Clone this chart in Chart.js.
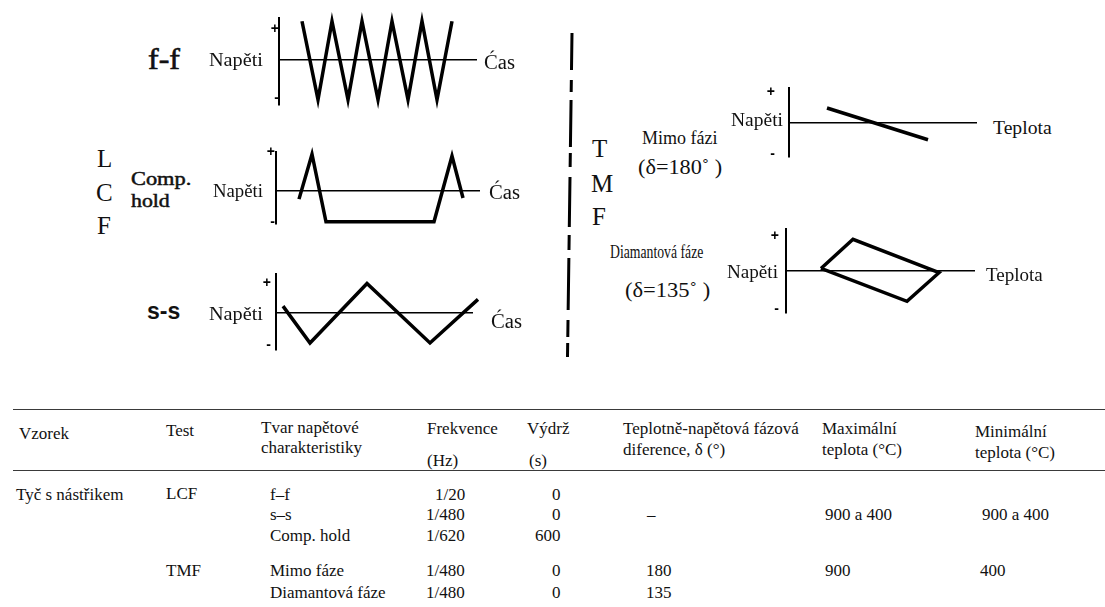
<!DOCTYPE html>
<html>
<head>
<meta charset="utf-8">
<script src="https://cdn.jsdelivr.net/npm/chart.js@4.4.1/dist/chart.umd.min.js"></script>
<style>
  html, body { margin:0; padding:0; background:#fff; }
  body { width:1105px; height:607px; position:relative; overflow:hidden; }
  canvas { position:absolute; }
  .t { position:absolute; white-space:nowrap; line-height:1; color:#111; transform-origin:0 50%; }
  .rule { position:absolute; left:13px; width:1092px; height:0; border-top:1.6px solid #3a3a3a; }
</style>
</head>
<body>
<svg width="1105" height="607" style="position:absolute;left:0;top:0">
  <line x1="572" y1="33" x2="567.5" y2="357" stroke="#000" stroke-width="3"
        stroke-dasharray="37 10 12 8 47 6 14 10 50 8 15 8 52 10 17 6 14"/>
</svg>
<div class="rule" style="top:409px"></div>
<div class="rule" style="top:470px"></div>
<script>
// ---------------- DATA ----------------
// f-f (fast-fast) triangle: time (arbitrary units), stress (normalised)
const ffTime   = [23, 39, 53, 69, 83, 99, 113, 129, 143, 158, 173];
const ffStress = [1, -1.02, 1, -1.02, 1, -1.02, 1, -1.02, 1, -1.02, 1];
// Compression hold
const chTime   = [23, 36, 50, 158, 176, 187];
const chStress = [-0.23, 1.0, -0.85, -0.85, 0.95, -0.2];
// s-s (slow-slow) triangle
const ssTime   = [7, 34, 91, 154, 202];
const ssStress = [0.23, -1.03, 1.0, -1.03, 0.46];
// TMF out-of-phase (stress vs temperature)
const oopTemp   = [38, 139];
const oopStress = [0.88, -1.0];
// TMF diamond phase
const dmTemp   = [35, 67, 153, 121, 35];
const dmStress = [0.09, 1.11, -0.06, -1.06, 0.09];

// Table
const tableHeaders = [
  ['Vzorek'], ['Test'], ['Tvar napětové', 'charakteristiky'], ['Frekvence', '(Hz)'],
  ['Výdrž', '(s)'], ['Teplotně-napětová fázová', 'diference, δ (°)'],
  ['Maximální', 'teplota (°C)'], ['Minimální', ' teplota (°C)']
];
const sampleName = 'Tyč s nástřikem';
const testTypes  = ['LCF', 'TMF'];
const waveShapes = ['f–f', 's–s', 'Comp. hold', 'Mimo fáze', 'Diamantová fáze'];
const frequencies = ['1/20', '1/480', '1/620', '1/480', '1/480'];
const holdTimes   = ['0', '0', '600', '0', '0'];
const phaseDiff   = ['–', '180', '135'];
const maxTemps    = ['900 a 400', '900'];
const minTemps    = ['900 a 400', '400'];

// ---------------- HELPERS ----------------
const SERIF = "'Liberation Serif','Times New Roman',serif";
function label(text, x, y, size, o) {
  o = o || {};
  const d = document.createElement('div');
  d.className = 't';
  d.textContent = text;
  d.style.fontFamily = o.family || SERIF;
  d.style.fontSize = size + 'px';
  d.style.fontWeight = o.weight || 'normal';
  if (o.stroke) d.style.webkitTextStroke = o.stroke + 'px #111';
  d.style.top = y + 'px';
  document.body.appendChild(d);
  const w = d.offsetWidth;
  let sx = 1;
  if (o.w) sx = o.w / w;
  const left = o.align === 'right' ? x - w * sx : x;
  d.style.left = left + 'px';
  d.style.transform = 'translateY(-50%) scaleX(' + sx + ')';
}

function wave(xs, ys, L) {
  const AW = 26, pT = 6, pB = 6, pR = 12;
  const c = document.createElement('canvas');
  const W = AW + (L.end - L.axisX) + pR;
  const H = (L.bottom - L.top) + pT + pB;
  c.width = W; c.height = H;
  c.style.left = (L.axisX - AW) + 'px';
  c.style.top = (L.top - pT) + 'px';
  c.style.width = W + 'px'; c.style.height = H + 'px';
  document.body.appendChild(c);
  new Chart(c, {
    type: 'scatter',
    data: { datasets: [{
      data: xs.map((x, i) => ({ x: x, y: ys[i] })),
      showLine: true, borderColor: '#000', borderWidth: 3.5,
      pointRadius: 0, pointHoverRadius: 0, fill: false, clip: false,
      borderJoinStyle: 'miter', tension: 0
    }]},
    options: {
      responsive: false, animation: false, devicePixelRatio: 1,
      layout: { padding: { left: 0, right: pR, top: pT, bottom: pB } },
      plugins: { legend: { display: false }, tooltip: { enabled: false } },
      scales: {
        x: { type: 'linear', min: 0, max: L.xMax, display: false },
        y: {
          type: 'linear', min: L.yMin, max: L.yMax,
          afterFit: s => { s.width = AW; },
          afterBuildTicks: s => { s.ticks = [{ value: L.minus }, { value: 0 }, { value: L.plus }]; },
          ticks: {
            autoSkip: false, padding: L.pad, color: '#000',
            font: { family: "'Liberation Sans',sans-serif", size: 14, weight: 'bold' },
            callback: v => v > 0 ? '+' : (v < 0 ? '-' : '')
          },
          grid: {
            drawTicks: false, lineWidth: 1.5,
            color: ctx => (ctx.tick && ctx.tick.value === 0) ? '#000' : 'rgba(0,0,0,0)'
          },
          border: { display: true, color: '#000', width: 2 }
        }
      }
    }
  });
}

// ---------------- CHARTS ----------------
wave(ffTime, ffStress, { axisX: 279, top: 16, bottom: 107, end: 477, xMax: 198,
  yMin: -1.146, yMax: 1.073, plus: 0.805, minus: -0.976, pad: 0 });
wave(chTime, chStress, { axisX: 276, top: 149, bottom: 227, end: 480, xMax: 204,
  yMin: -0.9, yMax: 1.05, plus: 1.05, minus: -0.85, pad: 1 });
wave(ssTime, ssStress, { axisX: 276, top: 267, bottom: 357, end: 473, xMax: 197,
  yMin: -1.257, yMax: 1.314, plus: 1.0, minus: -1.11, pad: 5 });
wave(oopTemp, oopStress, { axisX: 789, top: 72, bottom: 173, end: 977, xMax: 188,
  yMin: -2.0, yMax: 2.04, plus: 1.84, minus: -1.88, pad: 14 });
wave(dmTemp, dmStress, { axisX: 786, top: 220, bottom: 322, end: 975, xMax: 189,
  yMin: -1.457, yMax: 1.457, plus: 1.23, minus: -1.34, pad: 7 });

// ---------------- DIAGRAM LABELS ----------------
label('f-f', 148, 59, 29, { w: 32, stroke: 0.6 });
label('s-s', 147, 311, 23, { family: "'Liberation Sans',sans-serif", weight: 'bold', w: 33 });
label('Comp.', 131, 178, 19, { w: 60, stroke: 0.5 });
label('hold', 131, 200, 19, { w: 39, stroke: 0.5 });
label('L', 97, 158, 25);
label('C', 96, 192, 25);
label('F', 97, 225, 25);
label('T', 592, 148, 25);
label('M', 591, 183, 25);
label('F', 592, 216, 25);

label('Napěti', 209, 60, 18, { w: 54 });
label('Napěti', 213, 191, 18, { w: 50 });
label('Napěti', 209, 314, 18, { w: 54 });
label('Napěti', 731, 120, 18, { w: 52 });
label('Napěti', 727, 272, 18, { w: 51 });
label('Ćas', 484, 62, 20, { w: 31 });
label('Ćas', 489, 192, 20, { w: 31 });
label('Ćas', 491, 321, 20, { w: 31 });
label('Teplota', 993, 127, 19, { w: 59 });
label('Teplota', 986, 274, 19, { w: 57 });
label('Mimo fázi', 642, 138, 18, { w: 75 });
label('(δ=180˚ )', 638, 167, 22, { w: 84 });
label('Diamantová fáze', 610, 252, 18, { w: 93 });
label('(δ=135˚ )', 625, 290, 22, { w: 85 });

// ---------------- TABLE ----------------
const TS = 17;
const headX = [19, 166, 261, 427, 527, 623, 822, 975];
const headY = [[433], [430], [427, 447], [428, 460], [428, 460], [428, 449], [428, 449], [431, 452]];
const headDX = [[0], [0], [0, 0], [0, 0], [0, 2], [0, 0], [0, 0], [0, 0]];
tableHeaders.forEach((lines, i) => {
  lines.forEach((s, j) => label(s, headX[i] + headDX[i][j], headY[i][j], TS));
});
const rowY = [494, 514, 535, 570, 592];
label(sampleName, 16, rowY[0], TS);
label(testTypes[0], 166, rowY[0] - 1, TS);
label(testTypes[1], 166, rowY[3], TS);
waveShapes.forEach((s, i) => label(s, 270, rowY[i], TS));
frequencies.forEach((s, i) => label(s, 465, rowY[i], TS, { align: 'right' }));
holdTimes.forEach((s, i) => label(s, 561, rowY[i], TS, { align: 'right' }));
label(phaseDiff[0], 647, rowY[1], TS);
label(phaseDiff[1], 646, rowY[3], TS);
label(phaseDiff[2], 646, rowY[4], TS);
label(maxTemps[0], 825, rowY[1], TS);
label(maxTemps[1], 825, rowY[3], TS);
label(minTemps[0], 982, rowY[1], TS);
label(minTemps[1], 980, rowY[3], TS);
</script>
</body>
</html>
